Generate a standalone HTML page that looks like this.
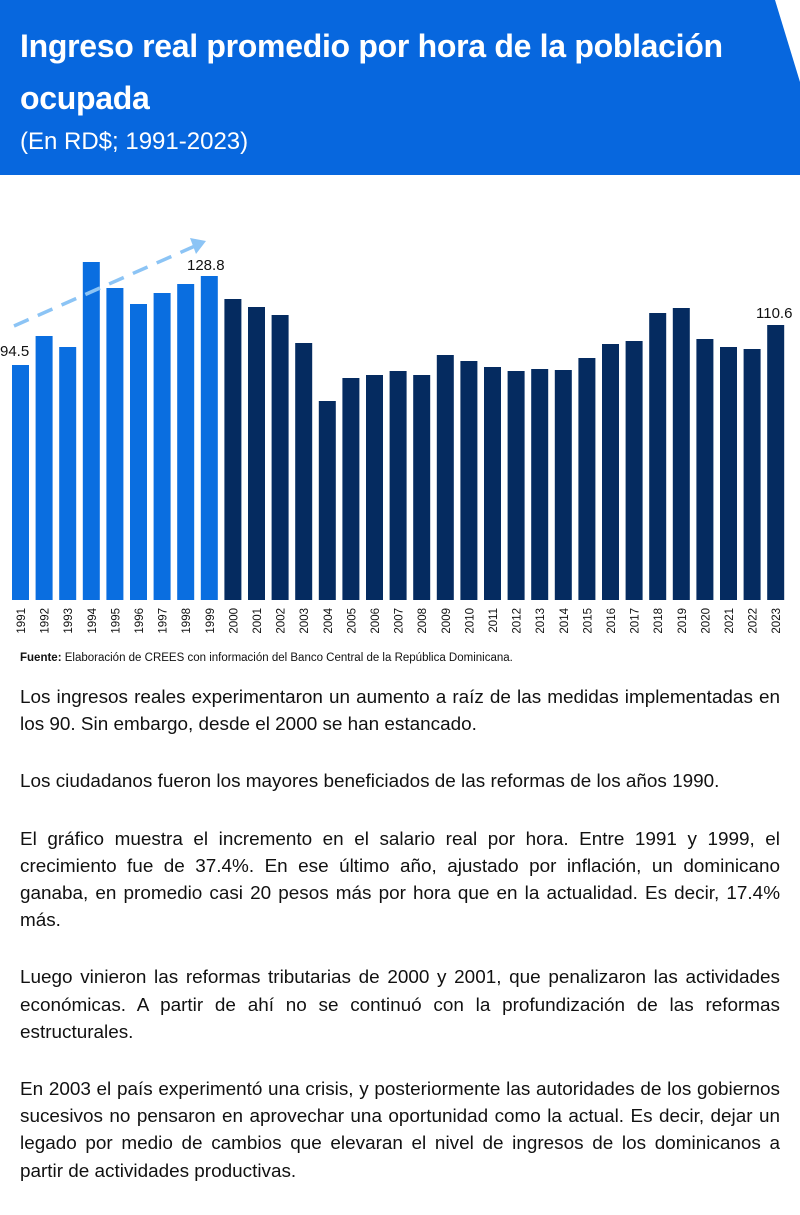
<!DOCTYPE html>
<html><head><meta charset="utf-8"><style>
body{margin:0;width:800px;height:1204px;background:#fff;font-family:"Liberation Sans",sans-serif;position:relative;overflow:hidden}
.hdr{position:absolute;left:0;top:0}
.t{position:absolute;left:20px;top:20px;color:#fff;font-weight:bold;font-size:32px;line-height:52px;width:745px;letter-spacing:-0.3px}
.s{position:absolute;left:20px;top:128px;color:#fff;font-size:24px}
.src{position:absolute;left:20px;top:652px;font-size:11.5px;color:#111}
.body{position:absolute;left:20px;top:684px;width:760px;font-size:18.9px;line-height:27.2px;color:#111;text-align:justify}
.body p{margin:0 0 30px 0}
</style></head><body>
<svg class="hdr" width="800" height="180"><polygon points="0,0 775,0 800,82 800,175 0,175" fill="#0767de"/></svg>
<div class="t">Ingreso real promedio por hora de la población ocupada</div>
<div class="s">(En RD$; 1991-2023)</div>
<svg style="position:absolute;left:0;top:180px" width="800" height="470" id="c"></svg>
<div class="src"><b>Fuente:</b> Elaboración de CREES con información del Banco Central de la República Dominicana.</div>
<div class="body">
<p>Los ingresos reales experimentaron un aumento a raíz de las medidas implementadas en los 90. Sin embargo, desde el 2000 se han estancado.</p>
<p>Los ciudadanos fueron los mayores beneficiados de las reformas de los años 1990.</p>
<p>El gráfico muestra el incremento en el salario real por hora. Entre 1991 y 1999, el crecimiento fue de 37.4%. En ese último año, ajustado por inflación, un dominicano ganaba, en promedio casi 20 pesos más por hora que en la actualidad. Es decir, 17.4% más.</p>
<p>Luego vinieron las reformas tributarias de 2000 y 2001, que penalizaron las actividades económicas. A partir de ahí no se continuó con la profundización de las reformas estructurales.</p>
<p>En 2003 el país experimentó una crisis, y posteriormente las autoridades de los gobiernos sucesivos no pensaron en aprovechar una oportunidad como la actual. Es decir, dejar un legado por medio de cambios que elevaran el nivel de ingresos de los dominicanos a partir de actividades productivas.</p>
</div>
<script>
var tops=[365,336,347,262,288,304,293,284,276,299,307,315,343,401,378,375,371,375,355,361,367,371,369,370,358,344,341,313,308,339,347,349,325];
var s='',o=180;
for(var i=0;i<33;i++){var x=12+i*23.6,y=tops[i]-o;
s+='<rect x="'+x+'" y="'+y+'" width="17" height="'+(420-y)+'" fill="'+(i<9?'#0a6ee0':'#052b60')+'"/>';
s+='<text transform="translate('+(x+13)+',428) rotate(-90)" text-anchor="end" font-size="11.5" fill="#111">'+(1991+i)+'</text>';}
s+='<text x="0" y="176" font-size="15" fill="#111">94.5</text>';
s+='<text x="187" y="90" font-size="15" fill="#111">128.8</text>';
s+='<text x="756" y="138" font-size="15" fill="#111">110.6</text>';
s+='<line x1="14" y1="146" x2="195" y2="66" stroke="#8cc4f5" stroke-width="3.5" stroke-dasharray="16,10"/>';
s+='<polygon points="206,61 190,58 196,74" fill="#8cc4f5"/>';
document.getElementById('c').innerHTML=s;
</script>
</body></html>
